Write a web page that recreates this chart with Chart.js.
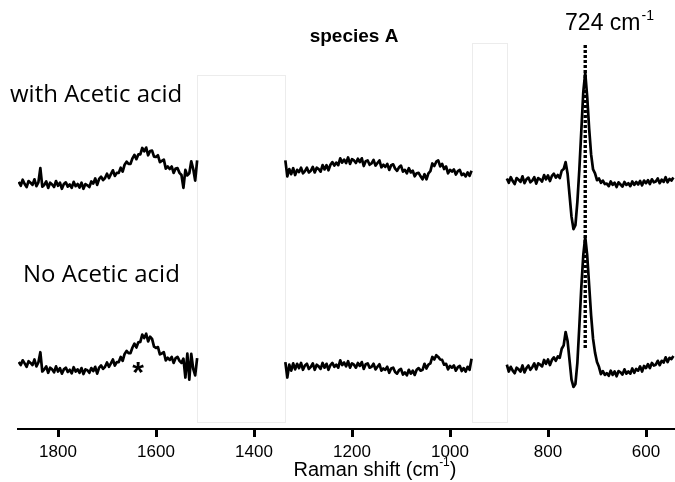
<!DOCTYPE html>
<html><head><meta charset="utf-8">
<script src="https://cdn.jsdelivr.net/npm/chart.js@4"></script>
<style>html,body{margin:0;padding:0;background:#fff}canvas{display:block}</style>
</head><body>
<canvas id="c" width="675" height="482"></canvas>
<script>
// ---- wavenumber sampling of each measured window (cm-1) ----
const seg1Start = 1880, seg1Step = 4;   // 1880 -> 1516
const seg2Start = 1336, seg2Step = 4;   // 1336 -> 956
const seg3Start = 884,  seg3Step = 4;   // 884 -> 544

// ---- intensities (arbitrary units, spectra offset) ----
const withAcid1 = [57.6,56.7,58.1,57.1,56.4,57.8,57.4,56.9,58.2,56.6,57.5,60.8,56.5,56.9,57.7,56.2,57.4,57.0,56.4,57.8,56.7,57.4,56.0,57.1,57.5,56.5,57.0,56.2,57.6,56.6,57.1,56.3,57.4,56.0,57.1,56.8,56.4,57.7,57.2,58.4,56.9,58.3,58.8,58.0,58.5,59.5,58.5,59.4,60.3,59.0,59.7,59.7,60.9,60.0,61.6,62.3,61.8,61.8,63.1,63.9,62.9,64.0,64.0,65.5,64.7,65.6,63.8,64.8,64.9,63.5,63.4,63.8,62.2,62.5,62.8,60.7,61.2,60.6,61.2,59.7,60.7,60.8,59.7,59.2,56.2,60.4,59.1,59.6,62.4,60.6,57.9,62.6];
const withAcid2 = [62.6,58.9,60.6,59.4,60.8,59.2,60.4,59.9,60.9,59.6,60.1,60.9,59.8,60.2,61.1,59.8,60.9,60.6,60.0,61.5,60.5,61.5,60.3,61.6,62.2,61.4,62.1,61.5,63.1,62.1,62.8,62.0,63.3,61.8,62.9,62.6,62.0,63.0,62.2,63.1,61.3,62.4,62.6,61.6,61.9,62.7,61.4,62.0,62.6,61.0,61.6,61.1,61.8,60.4,61.5,61.7,60.7,60.2,61.0,61.4,60.0,60.4,59.6,60.8,59.8,60.2,58.9,59.6,59.7,58.9,58.2,59.4,58.2,59.6,60.1,61.9,61.3,62.3,62.6,61.2,61.8,60.6,61.2,59.6,60.4,60.0,60.5,59.3,60.1,60.4,59.2,59.5,58.9,59.8,59.0,60.2];
const withAcid3 = [58.4,57.4,58.7,57.8,57.1,58.5,58.1,57.6,58.9,57.3,58.2,58.6,57.5,57.9,58.7,57.2,58.5,58.2,57.7,59.2,58.2,59.1,57.8,59.0,59.5,58.6,59.2,58.5,60.2,60.6,62.2,59.5,54.5,49.5,46.6,47.5,53.0,60.5,69.5,78.5,83.0,77.5,70.0,64.0,60.5,59.6,58.0,58.4,57.4,57.9,57.1,57.2,56.6,57.7,56.9,57.4,56.4,57.5,57.0,56.5,57.6,56.9,57.3,56.6,57.7,56.9,57.6,57.0,57.8,56.8,57.9,57.3,58.0,57.1,58.2,57.5,57.7,58.4,57.3,58.1,57.6,58.7,57.5,58.3,57.9,58.6];

const noAcid1 = [15.6,14.9,16.0,15.3,14.5,15.8,15.4,14.9,16.2,14.6,15.5,17.9,13.4,13.9,14.6,13.1,14.3,13.9,13.2,14.6,13.4,14.2,12.9,13.9,14.3,13.3,13.8,13.0,14.4,13.4,13.9,13.1,14.2,12.8,13.9,13.7,13.1,14.2,13.5,14.5,12.9,14.3,14.8,14.0,14.5,15.5,14.5,15.3,16.2,14.8,15.6,15.6,16.8,15.9,17.5,18.2,17.7,17.7,19.0,19.9,19.0,20.2,20.3,22.0,21.2,22.2,20.4,21.5,21.0,19.2,18.9,19.1,17.4,17.6,17.9,16.0,16.6,16.1,16.8,15.4,16.5,16.8,15.9,15.4,16.4,12.0,17.6,11.5,17.5,14.0,12.5,16.5];
const noAcid2 = [15.6,12.0,15.0,13.6,15.3,13.9,15.2,14.2,15.4,13.8,14.8,15.2,14.0,14.5,15.3,13.8,15.0,14.6,14.0,15.4,14.3,15.2,13.8,14.9,15.4,14.5,15.0,14.3,16.0,14.9,15.5,14.6,15.8,14.3,15.3,15.0,14.3,15.4,14.7,15.6,14.0,15.1,15.3,14.3,14.5,15.2,13.9,14.5,15.1,13.6,14.1,13.8,14.5,13.1,14.1,14.3,13.3,12.9,13.7,14.0,12.7,13.2,12.5,13.8,12.9,13.6,12.6,13.8,14.2,13.6,13.8,15.2,14.1,15.0,15.3,16.8,16.2,17.2,16.8,16.2,16.1,15.0,15.2,13.9,14.7,14.3,14.8,13.6,14.4,14.7,13.5,14.2,13.4,14.5,13.8,16.4];
const noAcid3 = [15.0,13.4,14.5,13.6,13.0,14.3,13.9,13.4,14.8,13.2,14.2,14.8,13.8,14.4,15.3,13.9,15.3,15.0,14.6,16.1,15.2,16.2,14.9,16.1,16.7,15.9,16.9,16.6,18.7,19.5,22.6,20.5,16.0,11.5,9.8,10.5,15.5,24.0,33.0,40.5,44.8,40.5,33.5,26.5,21.0,17.8,15.6,14.5,12.8,13.5,12.6,13.0,12.4,13.6,12.6,13.4,12.3,13.5,13.2,12.7,13.9,12.9,13.4,12.9,14.1,13.1,14.0,13.6,14.6,13.4,14.7,14.2,15.1,14.2,15.4,14.8,15.0,15.9,14.9,15.9,15.5,16.7,15.6,16.6,16.3,17.0];

const tickValues = [1800, 1600, 1400, 1200, 1000, 800, 600];
const markerBand = 724;             // cm-1
const markerRange = [89.5, 18.9];   // intensity span of dotted marker
const gaps = [[1516, 1336, 82.5], [956, 884, 90]]; // [from, to, top intensity]
const xRange = [540.8, 1881.6];

function wn(start, step, n){ const a=[]; for(let i=0;i<n;i++) a.push(start - i*step); return a; }
function pts(start, step, ys){ const xs = wn(start, step, ys.length); return ys.map((y,i)=>({x:xs[i], y:y})); }

const spec = (d)=>({data:d, showLine:true, borderColor:'#000', borderWidth:2.7, pointRadius:0, tension:0, fill:false, borderJoinStyle:'round'});

const datasets = [
  {data: markerRange.map(v=>({x:markerBand,y:v})), showLine:true, borderColor:'#000', borderWidth:3.4, borderDash:[3,2], pointRadius:0},
  spec(pts(seg1Start, seg1Step, withAcid1)),
  spec(pts(seg2Start, seg2Step, withAcid2)),
  spec(pts(seg3Start, seg3Step, withAcid3)),
  spec(pts(seg1Start, seg1Step, noAcid1)),
  spec(pts(seg2Start, seg2Step, noAcid2)),
  spec(pts(seg3Start, seg3Step, noAcid3)),
];

const boxes = {
  id:'boxes',
  beforeDatasetsDraw(chart){
    const {ctx, scales:{x,y}} = chart;
    ctx.save();
    ctx.strokeStyle = '#ececec'; ctx.lineWidth = 1;
    gaps.forEach(g=>{
      const x1 = x.getPixelForValue(g[0]), x2 = x.getPixelForValue(g[1]);
      const yt = y.getPixelForValue(g[2]), yb = y.getPixelForValue(1.6);
      ctx.strokeRect(Math.round(x1)+0.5, Math.round(yt)+0.5, Math.round(x2-x1), Math.round(yb-yt));
    });
    ctx.restore();
  }
};

const labels = {
  id:'labels',
  afterDraw(chart){
    const ctx = chart.ctx;
    const xs = chart.scales.x;
    ctx.save();
    ctx.setLineDash([]);
    ctx.globalAlpha = 1;
    // tick marks under the axis
    ctx.fillStyle = '#000000';
    tickValues.forEach(v=>{
      const px = Math.round(xs.getPixelForValue(v));
      ctx.fillRect(px - 1, xs.top, 3, 8);
    });
    ctx.textBaseline = 'middle';
    ctx.textAlign = 'left';
    ctx.font = '24px "Open Sans"';
    ctx.fillText('with Acetic acid', 10, 95);
    ctx.fillText('No Acetic acid', 23, 275);
    ctx.textAlign = 'center';
    ctx.font = 'bold 19px "Liberation Sans"';
    ctx.fillText('species A', 354, 37);
    // 724 cm-1
    ctx.textAlign = 'left';
    ctx.font = '23px "Liberation Sans"';
    const main = '724 cm';
    const w1 = ctx.measureText(main).width;
    ctx.font = '14px "Liberation Sans"';
    const w2 = ctx.measureText('-1').width;
    const x0 = 609 - (w1 + w2)/2;
    ctx.font = '23px "Liberation Sans"';
    ctx.fillText(main, x0, 24);
    ctx.font = '14px "Liberation Sans"';
    ctx.fillText('-1', x0 + w1 + 1, 16);
    // asterisk
    ctx.textAlign = 'center';
    ctx.font = 'bold 30px "Liberation Sans"';
    ctx.fillText('*', 138, 374);
    // axis title
    ctx.textAlign = 'left';
    ctx.font = '20px "Liberation Sans"';
    const t1 = 'Raman shift (cm';
    const a = ctx.measureText(t1).width;
    ctx.font = '12px "Liberation Sans"';
    const b = ctx.measureText('-1').width;
    ctx.font = '20px "Liberation Sans"';
    const c = ctx.measureText(')').width;
    const tx = 375 - (a+b+c)/2;
    ctx.fillText(t1, tx, 470);
    ctx.font = '12px "Liberation Sans"';
    ctx.fillText('-1', tx + a, 463);
    ctx.font = '20px "Liberation Sans"';
    ctx.fillText(')', tx + a + b, 470);
    ctx.restore();
  }
};

new Chart(document.getElementById('c'), {
  type:'scatter',
  data:{datasets},
  options:{
    responsive:false, animation:false,
    layout:{padding:{left:18, right:0, top:0, bottom:0}},
    plugins:{legend:{display:false}, tooltip:{enabled:false}},
    scales:{
      x:{
        type:'linear', reverse:true, min:xRange[0], max:xRange[1],
        afterBuildTicks(s){ s.ticks = tickValues.map(v=>({value:v})); },
        afterFit(s){ s.height = 53; },
        grid:{display:false},
        border:{display:true, color:'#000', width:2},
        ticks:{color:'#000', font:{family:'"Liberation Sans"', size:17}, padding:5, maxRotation:0, autoSkip:false,
               callback:(v)=>String(v)}
      },
      y:{display:false, min:0, max:100}
    }
  },
  plugins:[boxes, labels]
});
</script>
</body></html>
